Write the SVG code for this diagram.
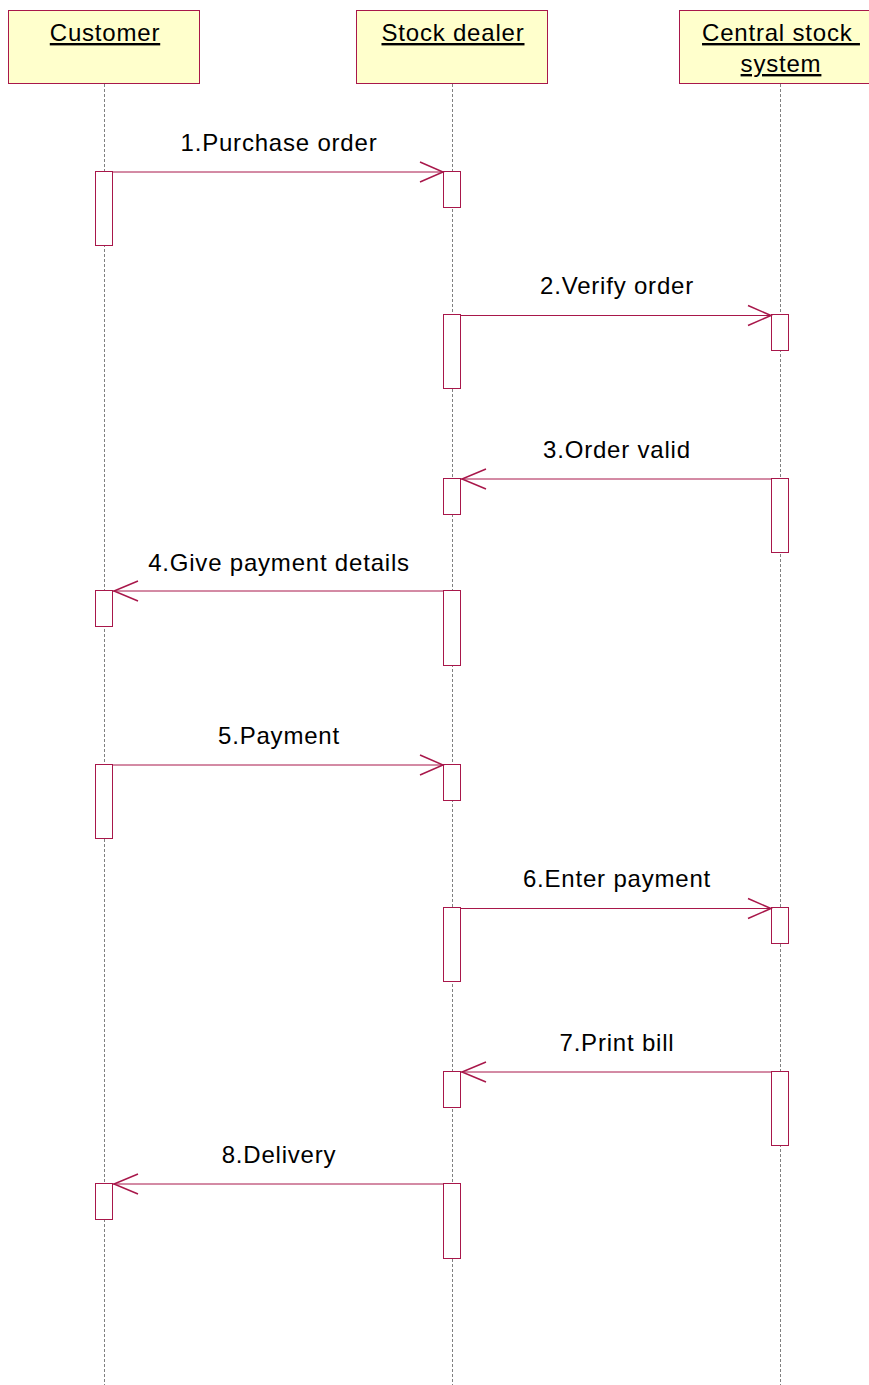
<svg xmlns="http://www.w3.org/2000/svg" width="869" height="1385" viewBox="0 0 869 1385">
<style>
.hdr{fill:#FFFFCC;stroke:#A8174A;stroke-width:1}
.life{stroke:#808080;stroke-width:1;stroke-dasharray:3,2;fill:none}
.act{fill:#FFFFFF;stroke:#A8174A;stroke-width:1}
.msg{stroke:#A8174A;stroke-width:1;fill:none}
.head{stroke:#A8174A;stroke-width:1.5;fill:none}
.t{font-family:"Liberation Sans",Arial,sans-serif;font-size:24px;letter-spacing:0.8px;fill:#000;text-anchor:middle}
.u{text-decoration:underline}
</style>
<rect width="869" height="1385" fill="#FFFFFF"/>
<g id="lifelines">
<line class="life" x1="104.5" y1="84" x2="104.5" y2="1385"/>
<line class="life" x1="452.5" y1="84" x2="452.5" y2="1385"/>
<line class="life" x1="780.5" y1="84" x2="780.5" y2="1385"/>
</g>
<g id="customer">
<rect class="hdr" x="8.5" y="10.5" width="191" height="73"/>
<text class="t u" x="105" y="41">Customer</text>
</g>
<g id="stock-dealer">
<rect class="hdr" x="356.5" y="10.5" width="191" height="73"/>
<text class="t u" x="453" y="41">Stock dealer</text>
</g>
<g id="central-stock-system">
<rect class="hdr" x="679.5" y="10.5" width="195" height="73"/>
<text class="t u" x="781" y="41" xml:space="preserve">Central stock </text>
<text class="t u" x="781" y="72">system</text>
</g>
<g id="activations">
<rect class="act" x="95.5" y="171.5" width="17" height="74"/>
<rect class="act" x="443.5" y="171.5" width="17" height="36"/>
<rect class="act" x="443.5" y="314.5" width="17" height="74"/>
<rect class="act" x="771.5" y="314.5" width="17" height="36"/>
<rect class="act" x="771.5" y="478.5" width="17" height="74"/>
<rect class="act" x="443.5" y="478.5" width="17" height="36"/>
<rect class="act" x="443.5" y="590.5" width="17" height="75"/>
<rect class="act" x="95.5" y="590.5" width="17" height="36"/>
<rect class="act" x="95.5" y="764.5" width="17" height="74"/>
<rect class="act" x="443.5" y="764.5" width="17" height="36"/>
<rect class="act" x="443.5" y="907.5" width="17" height="74"/>
<rect class="act" x="771.5" y="907.5" width="17" height="36"/>
<rect class="act" x="771.5" y="1071.5" width="17" height="74"/>
<rect class="act" x="443.5" y="1071.5" width="17" height="36"/>
<rect class="act" x="443.5" y="1183.5" width="17" height="75"/>
<rect class="act" x="95.5" y="1183.5" width="17" height="36"/>
</g>
<g id="connectors">
<line class="msg" x1="113" y1="172" x2="443" y2="172"/>
<polyline class="head" points="420,162 443,172 420,182"/>
<line class="msg" x1="461" y1="315.5" x2="771" y2="315.5"/>
<polyline class="head" points="748,305.5 771,315.5 748,325.5"/>
<line class="msg" x1="771" y1="479" x2="461" y2="479"/>
<polyline class="head" points="486,469 462,479 486,489"/>
<line class="msg" x1="443" y1="591" x2="113" y2="591"/>
<polyline class="head" points="138,581 114,591 138,601"/>
<line class="msg" x1="113" y1="765" x2="443" y2="765"/>
<polyline class="head" points="420,755 443,765 420,775"/>
<line class="msg" x1="461" y1="908.5" x2="771" y2="908.5"/>
<polyline class="head" points="748,898.5 771,908.5 748,918.5"/>
<line class="msg" x1="771" y1="1072" x2="461" y2="1072"/>
<polyline class="head" points="486,1062 462,1072 486,1082"/>
<line class="msg" x1="443" y1="1184" x2="113" y2="1184"/>
<polyline class="head" points="138,1174 114,1184 138,1194"/>
</g>
<g id="labels">
<text class="t" x="279" y="151">1.Purchase order</text>
<text class="t" x="617" y="294">2.Verify order</text>
<text class="t" x="617" y="458">3.Order valid</text>
<text class="t" x="279" y="571">4.Give payment details</text>
<text class="t" x="279" y="744">5.Payment</text>
<text class="t" x="617" y="887">6.Enter payment</text>
<text class="t" x="617" y="1051">7.Print bill</text>
<text class="t" x="279" y="1163">8.Delivery</text>
</g>
</svg>
